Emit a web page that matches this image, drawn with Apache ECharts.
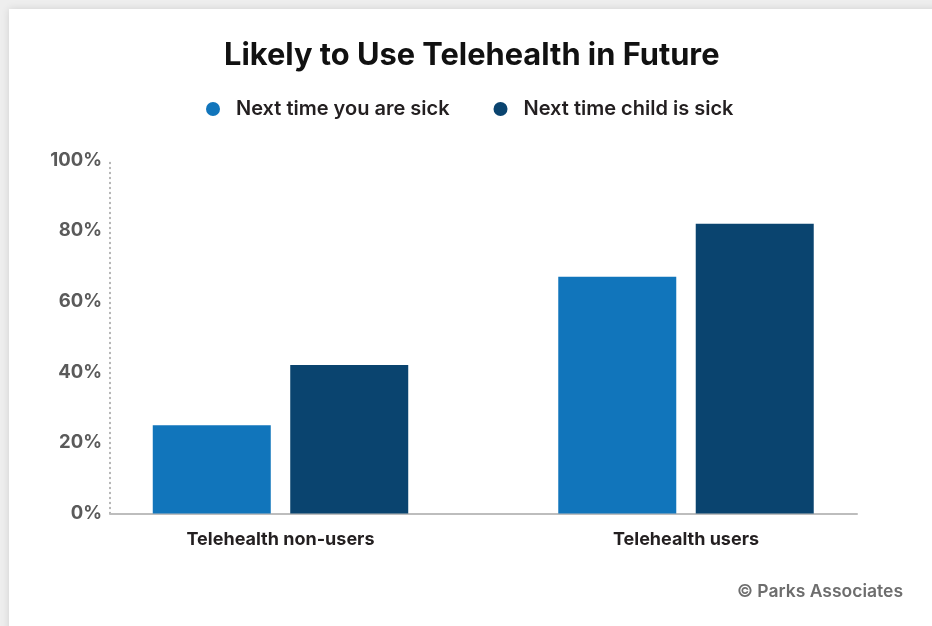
<!DOCTYPE html>
<html>
<head>
<meta charset="utf-8">
<script src="https://cdn.jsdelivr.net/npm/echarts@6/dist/echarts.min.js"></script>
<style>
  html, body { margin: 0; padding: 0; width: 932px; height: 626px; overflow: hidden; background: #eeeeee; }
  #card { position: absolute; left: 9px; top: 9px; width: 960px; height: 700px; background: #ffffff; box-shadow: 0 0 8px rgba(0,0,0,0.12); }
  #chart { position: absolute; left: 0; top: 0; width: 932px; height: 626px; }
</style>
</head>
<body>
<div id="card"></div>
<div id="chart"></div>
<script>
const categories = ['Telehealth non-users', 'Telehealth users'];
const seriesNames = ['Next time you are sick', 'Next time child is sick'];
const youSick = [25, 67];
const childSick = [42, 82];
const yTicks = [0, 20, 40, 60, 80, 100];

const FONT = 'Inter';
const chart = echarts.init(document.getElementById('chart'), null, { renderer: 'canvas' });
chart.setOption({
  backgroundColor: 'transparent',
  textStyle: { fontFamily: FONT },
  title: {
    text: 'Likely to Use Telehealth in Future',
    left: 219, top: 35,
    textStyle: { fontFamily: FONT, fontSize: 30.8, fontWeight: 'bold', color: '#111111' }
  },
  legend: {
    left: 201, top: 94,
    icon: 'circle', itemWidth: 14, itemHeight: 14, itemGap: 44,
    data: seriesNames,
    textStyle: { fontFamily: FONT, fontSize: 20, fontWeight: 600, color: '#231f20', padding: [0, 0, 0, 11] }
  },
  graphic: [{
    type: 'text', right: 29, top: 583,
    style: { text: '© Parks Associates', font: '600 17.5px ' + FONT, fill: '#6d6d6d' }
  }],
  grid: [
    { left: 110, right: 75, top: 160, bottom: 112.5 },
    { left: 77.75, right: 43.25, top: 160, bottom: 112.5 }
  ],
  xAxis: [
    { type: 'category', gridIndex: 0, data: categories, axisLine: { lineStyle: { color: '#bdbdbd', width: 2 } }, axisTick: { show: false }, axisLabel: { show: false } },
    { type: 'category', gridIndex: 1, data: categories, axisLine: { show: false }, axisTick: { show: false },
      axisLabel: { fontFamily: FONT, fontSize: 18, fontWeight: 'bold', color: '#231f20', margin: 17 } }
  ],
  yAxis: [
    { type: 'value', gridIndex: 0, min: 0, max: 100, interval: 20,
      axisLine: { show: true, lineStyle: { color: '#9a9a9a', type: [1, 4], width: 1.5 } },
      axisTick: { show: false }, splitLine: { show: false },
      axisLabel: { formatter: v => yTicks.includes(v) ? v + '%' : '', fontFamily: FONT, fontSize: 18.5, fontWeight: 'bold', color: '#5a5a5a', margin: 8 } },
    { type: 'value', gridIndex: 1, min: 0, max: 100, interval: 20, show: false }
  ],
  series: [
    { name: seriesNames[0], type: 'bar', xAxisIndex: 1, yAxisIndex: 1, data: youSick, barWidth: 118, barGap: '16.5%', itemStyle: { color: '#1175bb' } },
    { name: seriesNames[1], type: 'bar', xAxisIndex: 1, yAxisIndex: 1, data: childSick, barWidth: 118, itemStyle: { color: '#0a446f' } }
  ]
});
</script>
</body>
</html>
